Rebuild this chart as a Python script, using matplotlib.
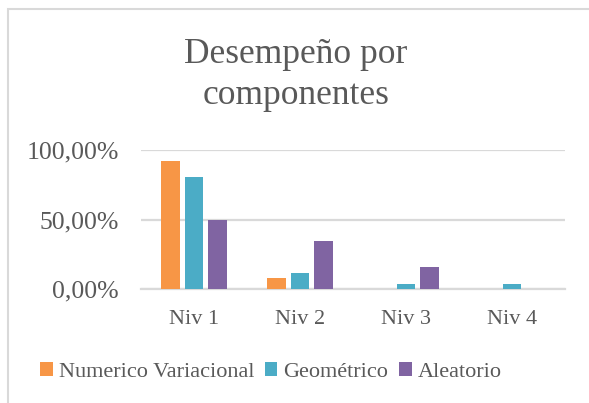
import matplotlib
matplotlib.use("Agg")
import matplotlib.pyplot as plt
from matplotlib.patches import Rectangle
from matplotlib.ticker import FuncFormatter
import numpy as np

categories = ["Niv 1", "Niv 2", "Niv 3", "Niv 4"]
series_names = ["Numerico Variacional", "Geométrico", "Aleatorio"]
numerico = [0.923, 0.077, 0.0, 0.0]
geometrico = [0.807, 0.113, 0.036, 0.036]
aleatorio = [0.50, 0.347, 0.155, 0.0]
colors = ["#F79646", "#4BACC6", "#8064A2"]
yticks = [0.0, 0.5, 1.0]

W, H = 589, 403
fig = plt.figure(figsize=(W / 100, H / 100), dpi=100)
fig.patch.set_facecolor("white")

font = "Liberation Serif"
tc = "#595959"

ax = fig.add_axes([141 / W, 1 - 288.7 / H, (565 - 141) / W, (288.7 - 150.3) / H])
x = np.arange(len(categories))
bw = 0.176
off = 0.22
bars = []
for i, (vals, c) in enumerate(zip([numerico, geometrico, aleatorio], colors)):
    b = ax.bar(x + (i - 1) * off, vals, width=bw, color=c, zorder=3, label=series_names[i])
    bars.append(b)

ax.set_xlim(-0.5, 3.5)
ax.set_ylim(0, 1.0)
ax.set_yticks(yticks)
ax.yaxis.set_major_formatter(FuncFormatter(lambda v, p: f"{v*100:.2f}%".replace(".", ",")))
ax.set_xticks(x)
ax.set_xticklabels(categories)
ax.grid(axis="y", color="#D9D9D9", linewidth=1.6, zorder=0)
ax.set_axisbelow(True)
for s in ["left", "right", "top"]:
    ax.spines[s].set_visible(False)
ax.spines["bottom"].set_color("#D9D9D9")
ax.spines["bottom"].set_linewidth(1.6)
ax.tick_params(axis="both", length=0, labelcolor=tc)
ax.tick_params(axis="y", pad=16, labelsize=18.5)
ax.tick_params(axis="x", pad=15, labelsize=16)
for lab in ax.get_xticklabels() + ax.get_yticklabels():
    lab.set_fontfamily(font)

fig.text(296 / W, 1 - 63 / H, "Desempeño por", ha="center", va="baseline",
         fontsize=25.5, color=tc, family=font)
fig.text(296 / W, 1 - 104 / H, "componentes", ha="center", va="baseline",
         fontsize=25.5, color=tc, family=font)

leg = fig.legend(handles=bars, labels=series_names, loc="center",
                 bbox_to_anchor=(271 / W, 1 - 372 / H), ncol=3, frameon=False,
                 prop={"family": font, "size": 16}, handlelength=0.55, handleheight=0.55,
                 handletextpad=0.27, columnspacing=0.5, borderaxespad=0)
for t in leg.get_texts():
    t.set_color(tc)

fig.patches.append(Rectangle((8 / W, -0.1), 1.2, 1.1 - 9 / H, transform=fig.transFigure,
                             fill=False, edgecolor="#D9D9D9", linewidth=1.5))

fig.savefig("out.png", dpi=100)
